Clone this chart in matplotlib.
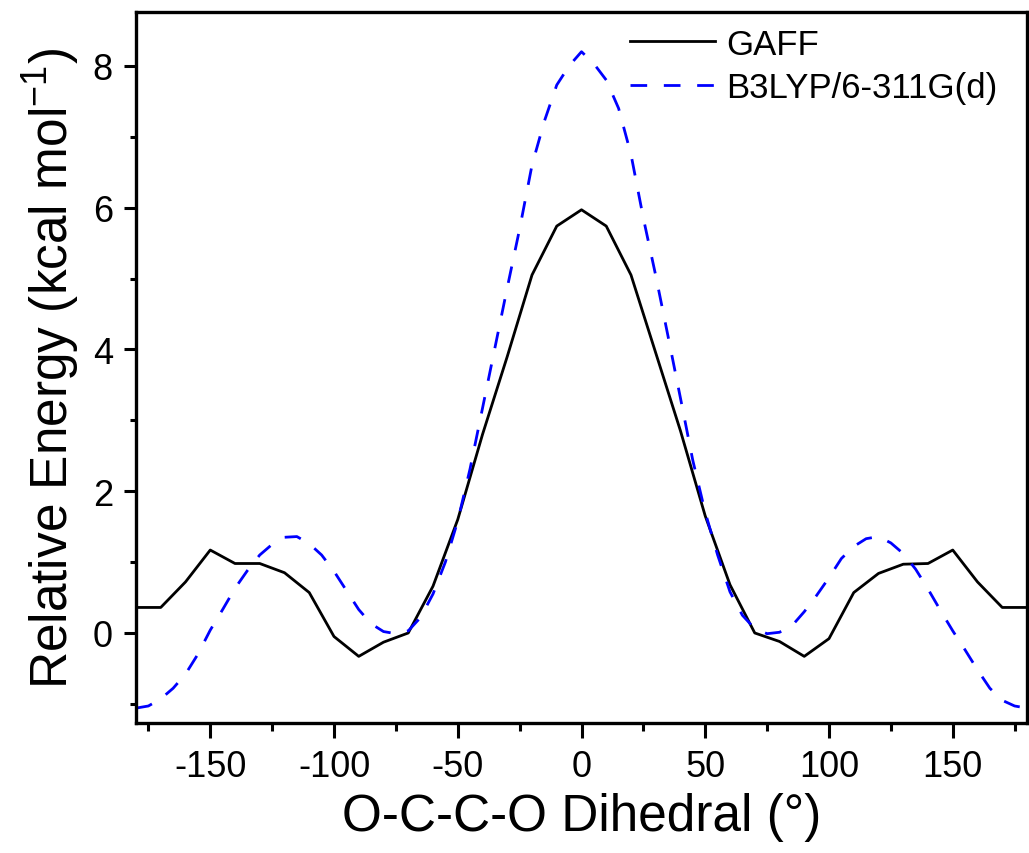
import matplotlib.pyplot as plt
from matplotlib.ticker import MultipleLocator

plt.rcParams['font.family'] = ['Liberation Sans', 'DejaVu Sans']
plt.rcParams['mathtext.fontset'] = 'custom'
plt.rcParams['mathtext.rm'] = 'Liberation Sans'
plt.rcParams['mathtext.it'] = 'Liberation Sans:italic'
plt.rcParams['axes.unicode_minus'] = False

# GAFF scan, every 10 degrees
gaff_angle = [-180, -170, -160, -150, -140, -130, -120, -110, -100, -90,
              -80, -70, -60, -50, -40, -30, -20, -10, 0, 10,
              20, 30, 40, 50, 60, 70, 80, 90, 100, 110,
              120, 130, 140, 150, 160, 170, 180]
gaff_energy = [0.36, 0.36, 0.72, 1.17, 0.98, 0.98, 0.85, 0.57, -0.05, -0.33,
               -0.13, 0.0, 0.66, 1.6, 2.8, 3.9, 5.05, 5.74, 5.97, 5.74,
               5.05, 3.95, 2.85, 1.65, 0.68, 0.0, -0.12, -0.33, -0.08, 0.57,
               0.84, 0.97, 0.98, 1.17, 0.72, 0.36, 0.36]

# B3LYP/6-311G(d) curve, read every 5 degrees
dft_angle = [-180, -175, -170, -165, -160, -155, -150, -145, -140, -135,
             -130, -125, -120, -115, -110, -105, -100, -95, -90, -85,
             -80, -75, -70, -65, -60, -55, -50, -45, -40, -35,
             -30, -25, -20, -15, -10, -5, 0, 5, 10, 15,
             20, 25, 30, 35, 40, 45, 50, 55, 60, 65,
             70, 75, 80, 85, 90, 95, 100, 105, 110, 115,
             120, 125, 130, 135, 140, 145, 150, 155, 160, 165,
             170, 175, 180]
dft_energy = [-1.06, -1.03, -0.93, -0.78, -0.58, -0.3, 0.04, 0.33, 0.63, 0.88,
              1.1, 1.25, 1.35, 1.36, 1.26, 1.1, 0.87, 0.6, 0.33, 0.13,
              0.02, -0.01, 0.03, 0.22, 0.55, 1.0, 1.58, 2.32, 3.17, 4.02,
              4.87, 5.7, 6.6, 7.22, 7.73, 8.0, 8.2, 8.03, 7.8, 7.4,
              6.75, 5.85, 5.04, 4.18, 3.31, 2.43, 1.7, 1.1, 0.58, 0.25,
              0.06, -0.01, 0.01, 0.1, 0.3, 0.53, 0.78, 1.05, 1.22, 1.33,
              1.36, 1.27, 1.12, 0.9, 0.62, 0.32, 0.03, -0.24, -0.52, -0.78,
              -0.95, -1.03, -1.06]

fig = plt.figure(figsize=(10.29, 8.54), dpi=100)
ax = fig.add_axes([136 / 1029, 1 - 724 / 854, 891 / 1029, 711 / 854])

ax.plot(gaff_angle, gaff_energy, color='black', lw=2.0, label='GAFF')
ax.plot(dft_angle, dft_energy, color='blue', lw=2.0, dashes=(6, 6),
        label='B3LYP/6-311G(d)')

ax.set_xlim(-180, 180)
ax.set_ylim(-1.27, 8.76)
ax.xaxis.set_major_locator(MultipleLocator(50))
ax.xaxis.set_minor_locator(MultipleLocator(25))
ax.yaxis.set_major_locator(MultipleLocator(2))
ax.yaxis.set_minor_locator(MultipleLocator(1))

for s in ax.spines.values():
    s.set_linewidth(2.4)
ax.tick_params(axis='both', which='both', direction='out', width=2.2,
               labelsize=26, top=False, right=False)
ax.tick_params(axis='y', which='major', length=8.6, pad=8)
ax.tick_params(axis='y', which='minor', length=4.3)
ax.tick_params(axis='x', which='major', length=10.8, pad=8)
ax.tick_params(axis='x', which='minor', length=5.8)

ax.set_xlabel('O-C-C-O Dihedral (°)', fontsize=37, labelpad=6)
ax.set_ylabel('Relative Energy (kcal mol$^{-1}$)', fontsize=37, labelpad=8)

ax.legend(loc='upper left', bbox_to_anchor=(0.554, 0.978), frameon=False,
          fontsize=25, handlelength=2.45, handletextpad=0.32,
          labelspacing=0.3, borderpad=0, borderaxespad=0)

fig.savefig('out.png', dpi=100)
